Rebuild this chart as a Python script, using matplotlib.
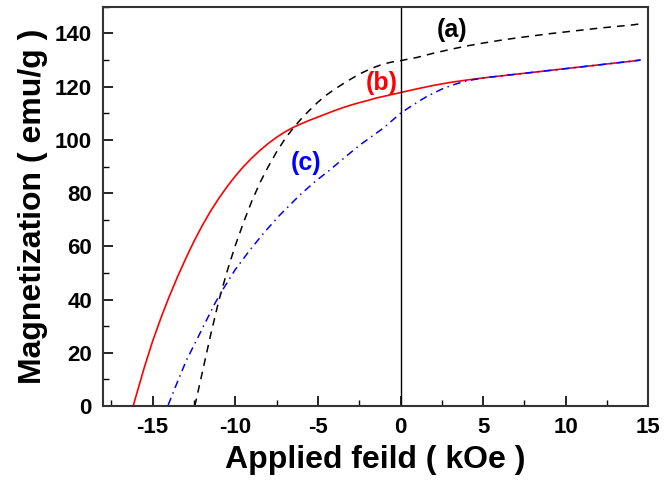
import matplotlib.pyplot as plt
from matplotlib.ticker import MultipleLocator

plt.rcParams["font.family"] = ["Liberation Sans", "DejaVu Sans"]
plt.rcParams["font.weight"] = "bold"
plt.rcParams["axes.unicode_minus"] = False

# (a) black dashed
field_a = [-12.45, -12.0, -11.5, -11.0, -10.5, -10.0, -9.5, -9.0, -8.5, -8.0, -7.5, -7.0,
           -6.5, -6.0, -5.5, -5.0, -4.5, -4.0, -3.5, -3.0, -2.5, -2.0, -1.5, -1.0, -0.5, 0.0,
           1.0, 2.0, 3.0, 4.0, 5.0, 6.0, 7.0, 8.0, 9.0, 10.0, 11.0, 12.0, 13.0, 14.0, 14.5]
mag_a = [0, 12.5, 26.5, 39.5, 50.5, 60.3, 69.0, 77.0, 84.0, 90.0, 95.5, 100.3,
         104.4, 108.0, 111.2, 114.2, 116.8, 119.0, 121.0, 122.9, 124.7, 126.2, 127.5, 128.6, 129.3, 129.8,
         131.0, 132.6, 134.0, 135.3, 136.4, 137.4, 138.3, 139.1, 139.9, 140.6, 141.3, 142.0, 142.6, 143.2, 143.6]

# (b) red solid
field_b = [-16.18, -16.0, -15.5, -15.0, -14.5, -14.0, -13.5, -13.0, -12.5, -12.0, -11.5, -11.0,
           -10.5, -10.0, -9.5, -9.0, -8.5, -8.0, -7.5, -7.0, -6.5, -6.0, -5.5, -5.0, -4.5, -4.0,
           -3.5, -3.0, -2.5, -2.0, -1.5, -1.0, -0.5, 0.0, 1.0, 2.0, 3.0, 4.0, 5.0, 6.0, 7.0, 8.0,
           9.0, 10.0, 11.0, 12.0, 13.0, 14.0, 14.5]
mag_b = [0, 3.9, 14.6, 24.4, 33.1, 41.1, 48.5, 55.4, 61.9, 67.8, 73.2, 78.0,
         82.4, 86.4, 90.0, 93.2, 96.1, 98.7, 101.0, 103.0, 104.7, 106.1, 107.4, 108.6, 109.8, 111.0,
         112.1, 113.1, 114.0, 114.8, 115.7, 116.4, 117.1, 117.8, 119.2, 120.5, 121.6, 122.5, 123.3, 124.0, 124.7, 125.4,
         126.1, 126.8, 127.5, 128.2, 128.9, 129.6, 130.0]

# (c) blue dash-dot
field_c = [-14.06, -13.55, -12.95, -12.34, -11.74, -11.23, -10.73, -10.02, -9.12, -8.21,
           -7.3, -6.09, -5.2, -4.28, -3.4, -2.46, -1.05, 0.0, 0.5, 1.0, 1.5, 2.0, 2.5, 3.0,
           3.5, 4.0, 5.0, 6.0, 7.0, 8.0, 9.0, 10.0, 11.0, 12.0, 13.0, 14.0, 14.5]
mag_c = [0.4, 8.3, 17.3, 24.8, 32.3, 38.6, 44.0, 51.1, 58.6, 65.5,
         71.8, 79.3, 84.2, 88.7, 93.3, 98.1, 104.4, 110.0, 112.1, 114.1, 116.0, 117.6, 119.1, 120.3,
         121.3, 122.2, 123.3, 124.0, 124.7, 125.4, 126.1, 126.8, 127.5, 128.2, 128.9, 129.6, 130.0]

fig = plt.figure(figsize=(6.65, 4.91), dpi=100)
ax = fig.add_axes([0.155, 0.173, 0.82, 0.813])

ax.plot(field_a, mag_a, color="black", lw=1.1, ls=(0, (5, 4)))
ax.plot(field_b, mag_b, color="red", lw=1.2)
ax.plot(field_c, mag_c, color="blue", lw=1.1, ls=(0, (5, 3, 1, 3)))
ax.axvline(0, color="black", lw=1.0)

ax.text(3.1, 141.4, "(a)", fontsize=18, fontweight="bold", color="black", ha="center", va="center")
ax.text(-1.15, 121.3, "(b)", fontsize=18, fontweight="bold", color="red", ha="center", va="center")
ax.text(-5.72, 91.2, "(c)", fontsize=18, fontweight="bold", color="blue", ha="center", va="center")

ax.set_xlim(-18, 15)
ax.set_ylim(0, 150)
ax.xaxis.set_major_locator(MultipleLocator(5))
ax.xaxis.set_minor_locator(MultipleLocator(2.5))
ax.yaxis.set_major_locator(MultipleLocator(20))
ax.yaxis.set_minor_locator(MultipleLocator(10))
ax.tick_params(which="major", direction="in", length=7, width=1.2, labelsize=16, pad=8)
ax.tick_params(which="minor", direction="in", length=4, width=1.0)
for s in ax.spines.values():
    s.set_linewidth(1.5)
    s.set_color("#333333")

ax.set_xlabel("Applied feild ( kOe )", fontsize=23, fontweight="bold", labelpad=5)
ax.set_ylabel("Magnetization ( emu/g )", fontsize=23, fontweight="bold", labelpad=5)

fig.savefig("out.png", dpi=100)
